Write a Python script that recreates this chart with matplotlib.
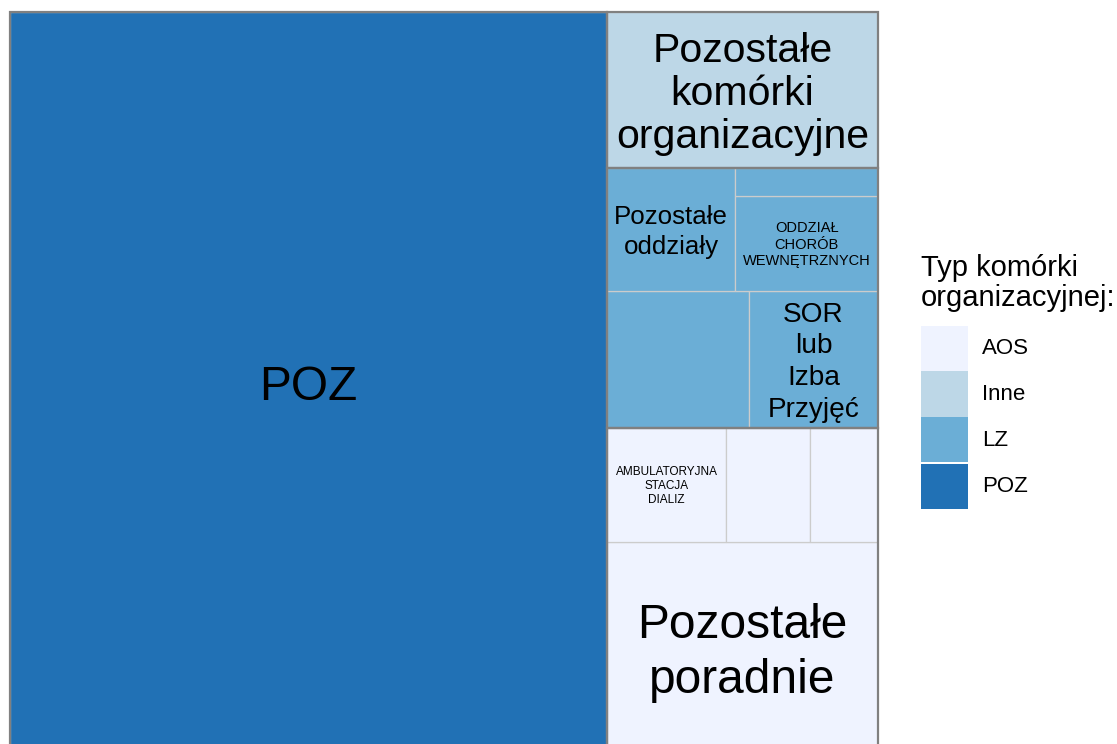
import matplotlib
matplotlib.use("Agg")
import matplotlib.pyplot as plt
from matplotlib.patches import Rectangle

plt.rcParams['font.family'] = ['Liberation Sans', 'DejaVu Sans']

# ---- data (share of total, %) ----
groups = ["POZ", "Inne", "LZ", "AOS"]
group_colors = {"AOS": "#EFF3FF", "Inne": "#BDD7E7", "LZ": "#6BAED6", "POZ": "#2171B5"}
legend_order = ["AOS", "Inne", "LZ", "POZ"]

leaf_group = ["POZ", "Inne",
              "LZ", "LZ", "LZ", "LZ", "LZ",
              "AOS", "AOS", "AOS", "AOS"]
leaf_label = ["POZ", "Pozostałe komórki organizacyjne",
              "", "SOR lub Izba Przyjęć", "Pozostałe oddziały", "ODDZIAŁ CHORÓB WEWNĘTRZNYCH", "",
              "Pozostałe poradnie", "AMBULATORYJNA STACJA DIALIZ", "", ""]
leaf_value = [68.78, 6.56,
              3.02, 2.74, 2.45, 2.11, 0.62,
              8.92, 2.11, 1.49, 1.20]

# ---- text styling (wrapping / size per label) ----
label_style = {
    "POZ": ("POZ", 34.5, 1.2),
    "Pozostałe komórki organizacyjne": ("Pozostałe\nkomórki\norganizacyjne", 29.5, 1.18),
    "SOR lub Izba Przyjęć": ("SOR\nlub\nIzba\nPrzyjęć", 20.2, 1.28),
    "Pozostałe oddziały": ("Pozostałe\noddziały", 18.6, 1.27),
    "ODDZIAŁ CHORÓB WEWNĘTRZNYCH": ("ODDZIAŁ\nCHORÓB\nWEWNĘTRZNYCH", 10.5, 1.23),
    "Pozostałe poradnie": ("Pozostałe\nporadnie", 34.5, 1.29),
    "AMBULATORYJNA STACJA DIALIZ": ("AMBULATORYJNA\nSTACJA\nDIALIZ", 8.5, 1.23),
}


def worst(row, side):
    s = sum(row)
    t = s / side
    r = 0
    for v in row:
        l = v / t
        r = max(r, t / l, l / t)
    return r


def squarify(values, x, y, w, h):
    total = sum(values)
    vals = [v * w * h / total for v in values]
    idx = sorted(range(len(vals)), key=lambda i: -vals[i])
    out = {}
    order = list(idx)
    while order:
        vertical = w >= h
        side = h if vertical else w
        row = [order[0]]
        k = 1
        while k < len(order):
            cand = row + [order[k]]
            if worst([vals[i] for i in cand], side) <= worst([vals[i] for i in row], side):
                row = cand
                k += 1
            else:
                break
        s = sum(vals[i] for i in row)
        t = s / side
        pos = 0
        for i in row:
            l = vals[i] / t
            if vertical:
                out[i] = (x, y + pos, t, l)
            else:
                out[i] = (x + pos, y, l, t)
            pos += l
        if vertical:
            x += t
            w -= t
        else:
            y += t
            h -= t
        order = order[k:]
    return out


W, H = 1117, 744
fig = plt.figure(figsize=(W / 100, H / 100), dpi=100)
ax = fig.add_axes([10 / W, (H - 754) / H, 868 / W, 742 / H])
ax.set_xlim(0, 1)
ax.set_ylim(0, 1)
ax.axis("off")

group_tot = [sum(v for g2, v in zip(leaf_group, leaf_value) if g2 == g) for g in groups]
grect = squarify(group_tot, 0, 0, 1, 1)

for gi, g in enumerate(groups):
    gx, gy, gw, gh = grect[gi]
    members = [i for i, g2 in enumerate(leaf_group) if g2 == g]
    lrect = squarify([leaf_value[i] for i in members], gx, gy, gw, gh)
    for j, i in enumerate(members):
        x, y, w, h = lrect[j]
        ax.add_patch(Rectangle((x, y), w, h, facecolor=group_colors[g],
                               edgecolor="#cccccc", lw=0.9, zorder=1))
        lab = leaf_label[i]
        if lab in label_style:
            txt, fs, ls = label_style[lab]
            ax.annotate(txt, xy=(x + w / 2, y + h / 2), xytext=(0, -0.1 * fs),
                        textcoords="offset points", ha="center", va="center",
                        fontsize=fs, linespacing=ls, color="black", zorder=3,
                        multialignment="center")
for gi, g in enumerate(groups):
    gx, gy, gw, gh = grect[gi]
    ax.add_patch(Rectangle((gx, gy), gw, gh, facecolor="none",
                           edgecolor="#808080", lw=1.6, zorder=2, clip_on=False))

# ---- legend ----
def fx(px):
    return px / W


def fy(py):
    return 1 - py / H


fig.text(fx(921), fy(254), "Typ komórki\norganizacyjnej:", ha="left", va="top",
         fontsize=21, linespacing=1.08)
key_top = 325
key_h = 46
for k, g in enumerate(legend_order):
    top = key_top + k * key_h
    fig.add_artist(Rectangle((fx(921), fy(top + key_h - 0.5)), 47 / W, (key_h - 1) / H,
                             transform=fig.transFigure, facecolor=group_colors[g],
                             edgecolor="none"))
    fig.text(fx(982), fy(top + key_h / 2), g, ha="left", va="center", fontsize=16)

fig.savefig("out.png", dpi=100)
